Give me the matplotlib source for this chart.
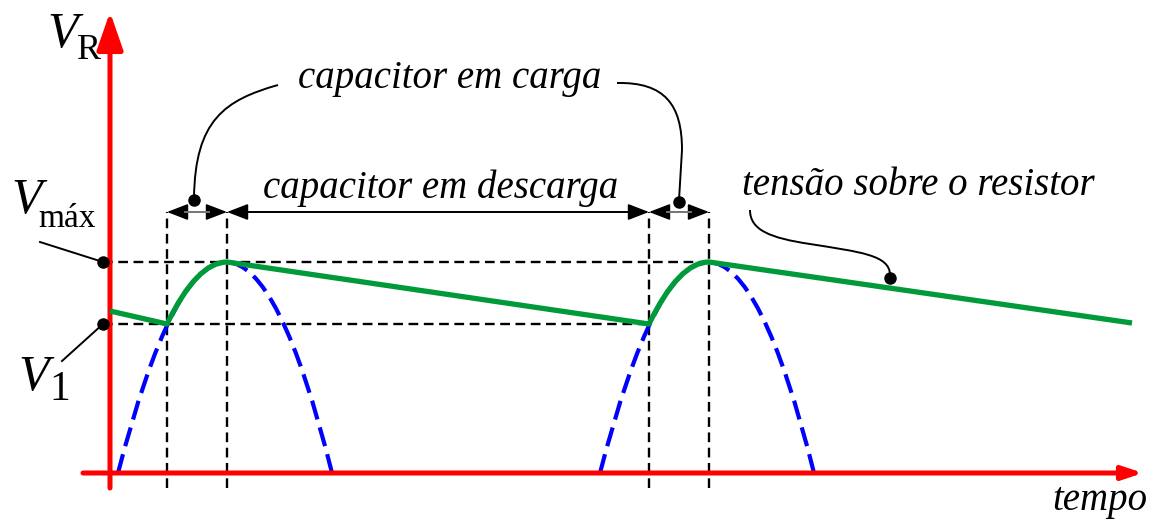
import matplotlib.pyplot as plt
from matplotlib.path import Path
from matplotlib.patches import PathPatch, FancyArrowPatch

plt.rcParams['lines.scale_dashes'] = False
plt.rcParams['font.family'] = 'Liberation Serif'

# positive half cycles of the rectified source (blue dashed)
half_start = [8, 490]
half_end = [222, 704]
# instants where the capacitor starts charging / reaches the peak
t_charge = [57, 539]
t_peak = [117, 599]
v_max = 211
v_1 = 149
# resistor voltage at the ends of the drawing
v_initial = 162
t_final = 1022
v_final = 150

label_carga = 'capacitor em carga'
label_descarga = 'capacitor em descarga'
label_resistor = 'tensão sobre o resistor'
label_tempo = 'tempo'

fig = plt.figure(figsize=(11.56, 5.23), dpi=100)
ax = fig.add_axes([0, 0, 1, 1])
ax.set_xlim(-110, 1046)
ax.set_ylim(-50, 473)
ax.axis('off')

dash_k = (0, (7, 4))

# guide lines
for t in t_charge + t_peak:
    ax.plot([t, t], [-15, 261], color='black', lw=1.7, ls=dash_k, zorder=1)
ax.plot([-7, t_peak[1]], [v_max, v_max], color='black', lw=1.7, ls=dash_k, zorder=1)
ax.plot([-7, t_charge[1]], [v_1, v_1], color='black', lw=1.7, ls=dash_k, zorder=1)

# rectified sine (blue dashed)
for ts, te, tp in zip(half_start, half_end, t_peak):
    p = Path([(ts, 0), (tp, 2 * v_max), (te, 0)],
             [Path.MOVETO, Path.CURVE3, Path.CURVE3])
    ax.add_patch(PathPatch(p, fill=False, ec='#0000ff', lw=3.0,
                           ls=(0, (14, 6)), zorder=2))

# axes
ax.add_patch(FancyArrowPatch((-27, 0), (1033, 0),
                             arrowstyle='-|>,head_length=12,head_width=4',
                             mutation_scale=1, color='red', lw=3.6,
                             shrinkA=0, shrinkB=0, zorder=3))
ax.add_patch(FancyArrowPatch((0, -15), (0, 461),
                             arrowstyle='-|>,head_length=23,head_width=8',
                             mutation_scale=1, color='red', lw=3.6,
                             shrinkA=0, shrinkB=0, zorder=3))

# resistor voltage (green)
verts = [(0, v_initial)]
codes = [Path.MOVETO]
for tc, tp in zip(t_charge, t_peak):
    verts += [(tc, v_1), ((tc + tp) / 2, v_max), (tp, v_max)]
    codes += [Path.LINETO, Path.CURVE3, Path.CURVE3]
verts.append((t_final, v_final))
codes.append(Path.LINETO)
ax.add_patch(PathPatch(Path(verts, codes), fill=False, ec='#009a3a', lw=3.8,
                       joinstyle='round', capstyle='butt', zorder=4))

# dimension arrows
y_dim = 261
head = 18
spans = [(t_charge[0], t_peak[0], '#808080'), (t_peak[0], t_charge[1], 'black'),
         (t_charge[1], t_peak[1], '#808080')]
for a, b, c in spans:
    ax.add_patch(FancyArrowPatch((a, y_dim), (b, y_dim),
                                 arrowstyle='<|-|>,head_length=13,head_width=5',
                                 mutation_scale=1, color='black', lw=1.2,
                                 shrinkA=0, shrinkB=0, zorder=5))
    ax.plot([a + head, b - head], [y_dim, y_dim], color=c, lw=1.3, zorder=6)

# leaders
leaders = [
    Path([(84, 275), (85, 353), (115, 373), (168, 388)],
         [Path.MOVETO, Path.CURVE4, Path.CURVE4, Path.CURVE4]),
    Path([(507, 390), (555, 391), (572, 368), (572, 323), (569, 273)],
         [Path.MOVETO, Path.CURVE4, Path.CURVE4, Path.CURVE4, Path.LINETO]),
    Path([(640, 263), (640, 243), (660, 235), (700, 229),
          (750, 221), (780, 218), (780, 198)],
         [Path.MOVETO, Path.CURVE4, Path.CURVE4, Path.CURVE4,
          Path.CURVE4, Path.CURVE4, Path.CURVE4]),
]
for p in leaders:
    ax.add_patch(PathPatch(p, fill=False, ec='black', lw=1.4, zorder=5))
ax.plot([-70, -7], [231, v_max], color='black', lw=1.4, zorder=5)
ax.plot([-48, -7], [112, v_1], color='black', lw=1.4, zorder=5)

ax.plot([-7, -7, 84, 569, 780], [v_max, v_1, 273, 271, 195], 'o',
        color='black', ms=8, zorder=6)

# texts
kw = dict(fontsize=28, style='italic', ha='center', va='baseline')
ax.text(340, 385, label_carga, **kw)
ax.text(331, 275, label_descarga, **kw)
ax.text(808, 278, label_resistor, **kw)
ax.text(990, -37, label_tempo, **kw)

ax.text(-63, 426, 'V', fontsize=36, style='italic', va='baseline')
ax.text(-33, 414, 'R', fontsize=26, va='baseline')
ax.text(-99, 260, 'V', fontsize=36, style='italic', va='baseline')
ax.text(-72, 246, 'máx', fontsize=24, va='baseline')
ax.text(-92, 83, 'V', fontsize=36, style='italic', va='baseline')
ax.text(-61, 73, '1', fontsize=30, va='baseline')

fig.savefig('out.png', dpi=100)
